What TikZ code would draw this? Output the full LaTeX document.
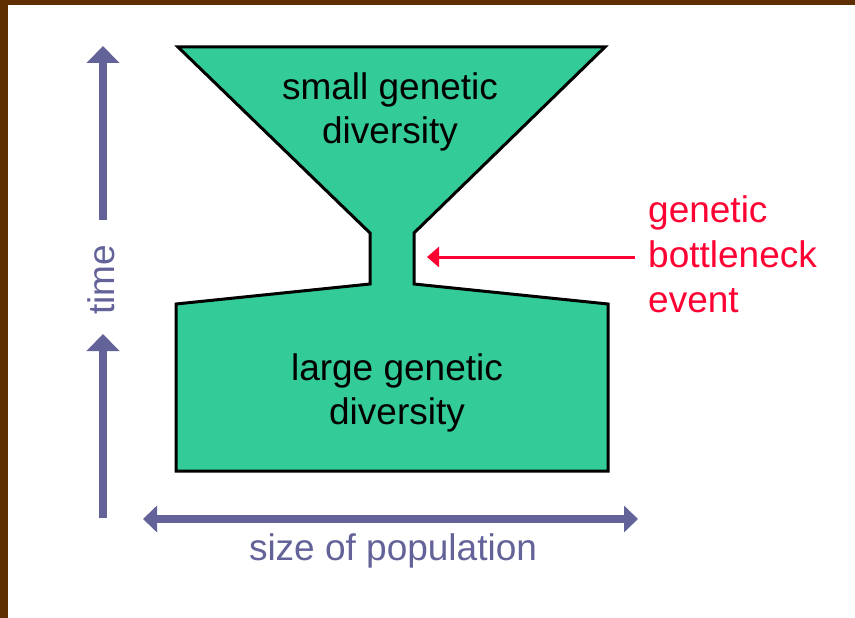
\documentclass[tikz,border=0pt]{standalone}
\usepackage{fontspec}
\setmainfont{Liberation Sans}
\usetikzlibrary{arrows.meta}
\definecolor{popgreen}{RGB}{51,204,153}
\definecolor{axisblue}{RGB}{99,99,153}
\definecolor{eventred}{RGB}{255,0,51}
\definecolor{framebrown}{RGB}{94,46,0}
\tikzset{
  bigtext/.style={font=\fontsize{37}{44}\selectfont, inner sep=0pt},
  redtext/.style={font=\fontsize{37}{45}\selectfont, inner sep=0pt, text=eventred, align=left},
  axis/.style={draw=axisblue, line width=8pt},
  axishead/.style={-{Triangle[width=32pt,length=17pt]}},
  popshape/.style={draw=black, line width=3pt, fill=popgreen, line join=miter},
}
\begin{document}
\begin{tikzpicture}[x=1pt,y=-1pt]
\useasboundingbox (0,0) rectangle (855,618);
\fill[white] (0,0) rectangle (855,618);
\fill[framebrown] (0,0) rectangle (855,5);
\fill[framebrown] (0,0) rectangle (8,618);
% population shape
\path[popshape] (178,47) -- (605,47) -- (414,233) -- (414,284) -- (608,304)
  -- (608,471) -- (176,471) -- (176,304) -- (370,284) -- (370,233) -- cycle;
\node[bigtext, align=center] (small) at (390,111.5) {small genetic\\diversity};
\node[bigtext, align=center] (large) at (397,393) {large genetic\\diversity};
% time axis
\node[bigtext, text=axisblue, rotate=90, anchor=base] (time) at (114,280) {time};
\coordinate (tupstart) at (103,220);
\coordinate (tuptip) at (103,46);
\coordinate (tlowstart) at (103,518);
\coordinate (tlowtip) at (103,334);
\draw[axis, axishead, draw=axisblue, fill=axisblue] (tupstart) -- (tuptip);
\draw[axis, axishead, draw=axisblue, fill=axisblue] (tlowstart) -- (tlowtip);
% size axis
\coordinate (sleft) at (143,519);
\coordinate (sright) at (638,519);
\draw[axis, {Triangle[width=26pt,length=14pt]}-{Triangle[width=26pt,length=14pt]}, fill=axisblue] (sleft) -- (sright);
\node[bigtext, text=axisblue, anchor=base] (size) at (393,560) {size of population};
% bottleneck label
\node[redtext, anchor=west] (event) at (648,254.75) {genetic\\bottleneck\\event};
\coordinate (neck) at (427,257);
\draw[draw=eventred, line width=3pt, -{Triangle[width=20pt,length=12pt]}, fill=eventred] (event.west |- neck) ++(-13,0) coordinate (estart) (estart) -- (neck);
\end{tikzpicture}
\end{document}
